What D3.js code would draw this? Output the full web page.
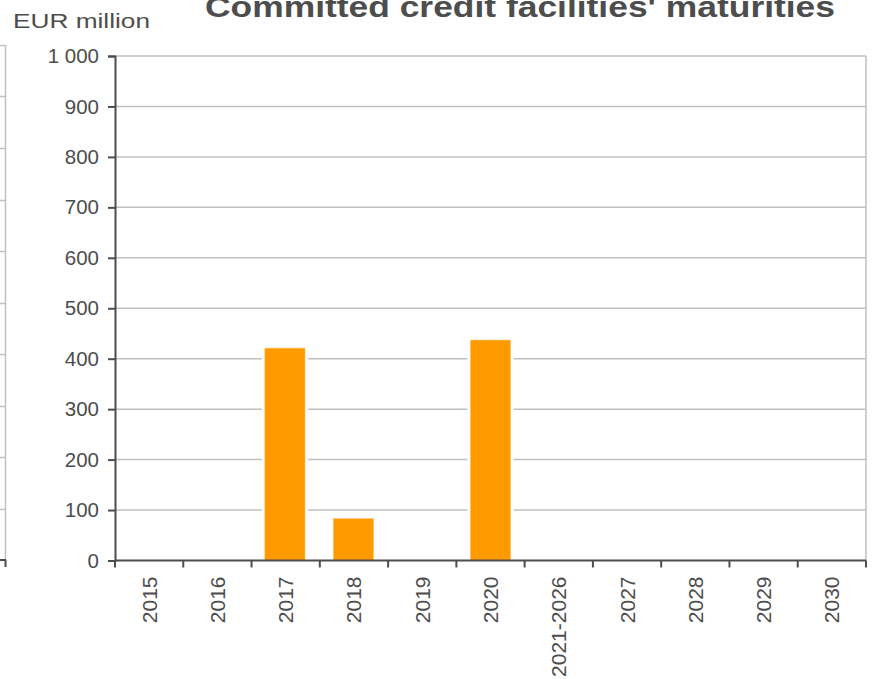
<!DOCTYPE html>
<html>
<head>
<meta charset="utf-8">
<script src="https://cdn.jsdelivr.net/npm/d3@7"></script>
<style>
  body { margin: 0; background: #fff; }
  text { font-family: Arial, "Liberation Sans", sans-serif; fill: #4d4d4d; }
</style>
</head>
<body>
<div id="chart"></div>
<script>
// committed credit facilities by maturity year
var categories = ['2015', '2016', '2017', '2018', '2019', '2020', '2021-2026', '2027', '2028', '2029', '2030']
var values = [0, 0, 421, 83, 0, 437, 0, 0, 0, 0, 0]
var yTicks = [0, 100, 200, 300, 400, 500, 600, 700, 800, 900, 1000]

var width = 872, height = 679
var margin = { top: 56, right: 6, bottom: 118.5, left: 115 }

var svg = d3.select('#chart')
  .append('svg')
  .attr('width', width)
  .attr('height', height)

var x = d3.scaleBand()
  .domain(categories)
  .range([margin.left, width - margin.right])
  .paddingInner(0.414)
  .paddingOuter(0.187)

var y = d3.scaleLinear()
  .domain([0, 1000])
  .range([height - margin.bottom, margin.top])

var fmt = function(d) { return d3.format(',')(d).replace(',', ' ') }

// piece of the neighbouring chart cut by the left edge
var yLeft = d3.scaleLinear().domain([0, 10]).range([560, 45])
svg.append('g')
  .selectAll('line')
  .data(d3.range(1, 11))
  .enter().append('line')
  .attr('x1', 0).attr('x2', 5.5)
  .attr('y1', function(d) { return Math.round(yLeft(d)) + 0.5 })
  .attr('y2', function(d) { return Math.round(yLeft(d)) + 0.5 })
  .attr('stroke', '#c0c0c0').attr('stroke-width', 1.5)
svg.append('line')
  .attr('x1', 5.5).attr('x2', 5.5).attr('y1', 45).attr('y2', 560)
  .attr('stroke', '#c0c0c0').attr('stroke-width', 1.5)
svg.append('line')
  .attr('x1', 0).attr('x2', 6).attr('y1', 560).attr('y2', 560)
  .attr('stroke', '#4d4d4d').attr('stroke-width', 2)
svg.append('line')
  .attr('x1', 5.5).attr('x2', 5.5).attr('y1', 560).attr('y2', 567)
  .attr('stroke', '#4d4d4d').attr('stroke-width', 2)

// gridlines
svg.append('g')
  .selectAll('line')
  .data(yTicks.filter(function(d) { return d > 0 }))
  .enter().append('line')
  .attr('x1', margin.left)
  .attr('x2', width - margin.right)
  .attr('y1', function(d) { return y(d) })
  .attr('y2', function(d) { return y(d) })
  .attr('stroke', '#c0c0c0')
  .attr('stroke-width', 1.5)

// right border
svg.append('line')
  .attr('x1', width - margin.right).attr('x2', width - margin.right)
  .attr('y1', y(1000)).attr('y2', y(0))
  .attr('stroke', '#c0c0c0').attr('stroke-width', 1.5)

var bars = categories.map(function(c, i) { return { cat: c, value: values[i] } })
  .filter(function(d) { return d.value > 0 })

// white edge that cuts the gridlines around each bar
svg.append('g')
  .selectAll('rect')
  .data(bars)
  .enter().append('rect')
  .attr('x', function(d) { return x(d.cat) - 3 })
  .attr('y', function(d) { return y(d.value) })
  .attr('width', x.bandwidth() + 6)
  .attr('height', function(d) { return y(0) - y(d.value) })
  .attr('fill', '#fff')

svg.append('g')
  .selectAll('rect')
  .data(bars)
  .enter().append('rect')
  .attr('x', function(d) { return x(d.cat) })
  .attr('y', function(d) { return y(d.value) })
  .attr('width', x.bandwidth())
  .attr('height', function(d) { return y(0) - y(d.value) })
  .attr('fill', '#ff9900')
  .attr('stroke', '#ffc266')
  .attr('stroke-width', 0.6)

// y axis
var yAxis = svg.append('g')
  .attr('transform', 'translate(' + margin.left + ',0)')
  .call(d3.axisLeft(y).tickValues(yTicks).tickFormat(fmt).tickSize(7).tickPadding(9))
yAxis.select('.domain').attr('stroke', '#4d4d4d').attr('stroke-width', 2)
yAxis.selectAll('.tick line').attr('stroke', '#4d4d4d').attr('stroke-width', 2)
yAxis.selectAll('.tick text')
  .attr('font-size', 20.5)
  .attr('font-family', 'Arial, "Liberation Sans", sans-serif')
  .attr('fill', '#4d4d4d')

// x axis, ticks between the categories
var edges = categories.map(function(c) { return margin.left + categories.indexOf(c) * (width - margin.right - margin.left) / categories.length })
edges.push(width - margin.right)
var xg = svg.append('g')
xg.append('line')
  .attr('x1', margin.left).attr('x2', width - margin.right)
  .attr('y1', y(0)).attr('y2', y(0))
  .attr('stroke', '#4d4d4d').attr('stroke-width', 2)
xg.selectAll('line.tick')
  .data(edges)
  .enter().append('line')
  .attr('class', 'tick')
  .attr('x1', function(d) { return d }).attr('x2', function(d) { return d })
  .attr('y1', y(0)).attr('y2', y(0) + 7)
  .attr('stroke', '#4d4d4d').attr('stroke-width', 2)
xg.selectAll('text')
  .data(categories)
  .enter().append('text')
  .attr('transform', function(d, i) {
    return 'translate(' + (edges[i] + (edges[i + 1] - edges[i]) / 2 + 7.5) + ',' + (y(0) + 16) + ') rotate(-90)'
  })
  .attr('text-anchor', 'end')
  .attr('font-size', 21)
  .text(function(d) { return d })

// titles
svg.append('text')
  .attr('x', 13).attr('y', 28)
  .attr('font-size', 21)
  .attr('textLength', 137)
  .attr('lengthAdjust', 'spacingAndGlyphs')
  .text('EUR million')

svg.append('text')
  .attr('x', 205).attr('y', 17)
  .attr('font-size', 29)
  .attr('font-weight', 'bold')
  .attr('textLength', 630)
  .attr('lengthAdjust', 'spacingAndGlyphs')
  .text("Committed credit facilities' maturities")
</script>
</body>
</html>
